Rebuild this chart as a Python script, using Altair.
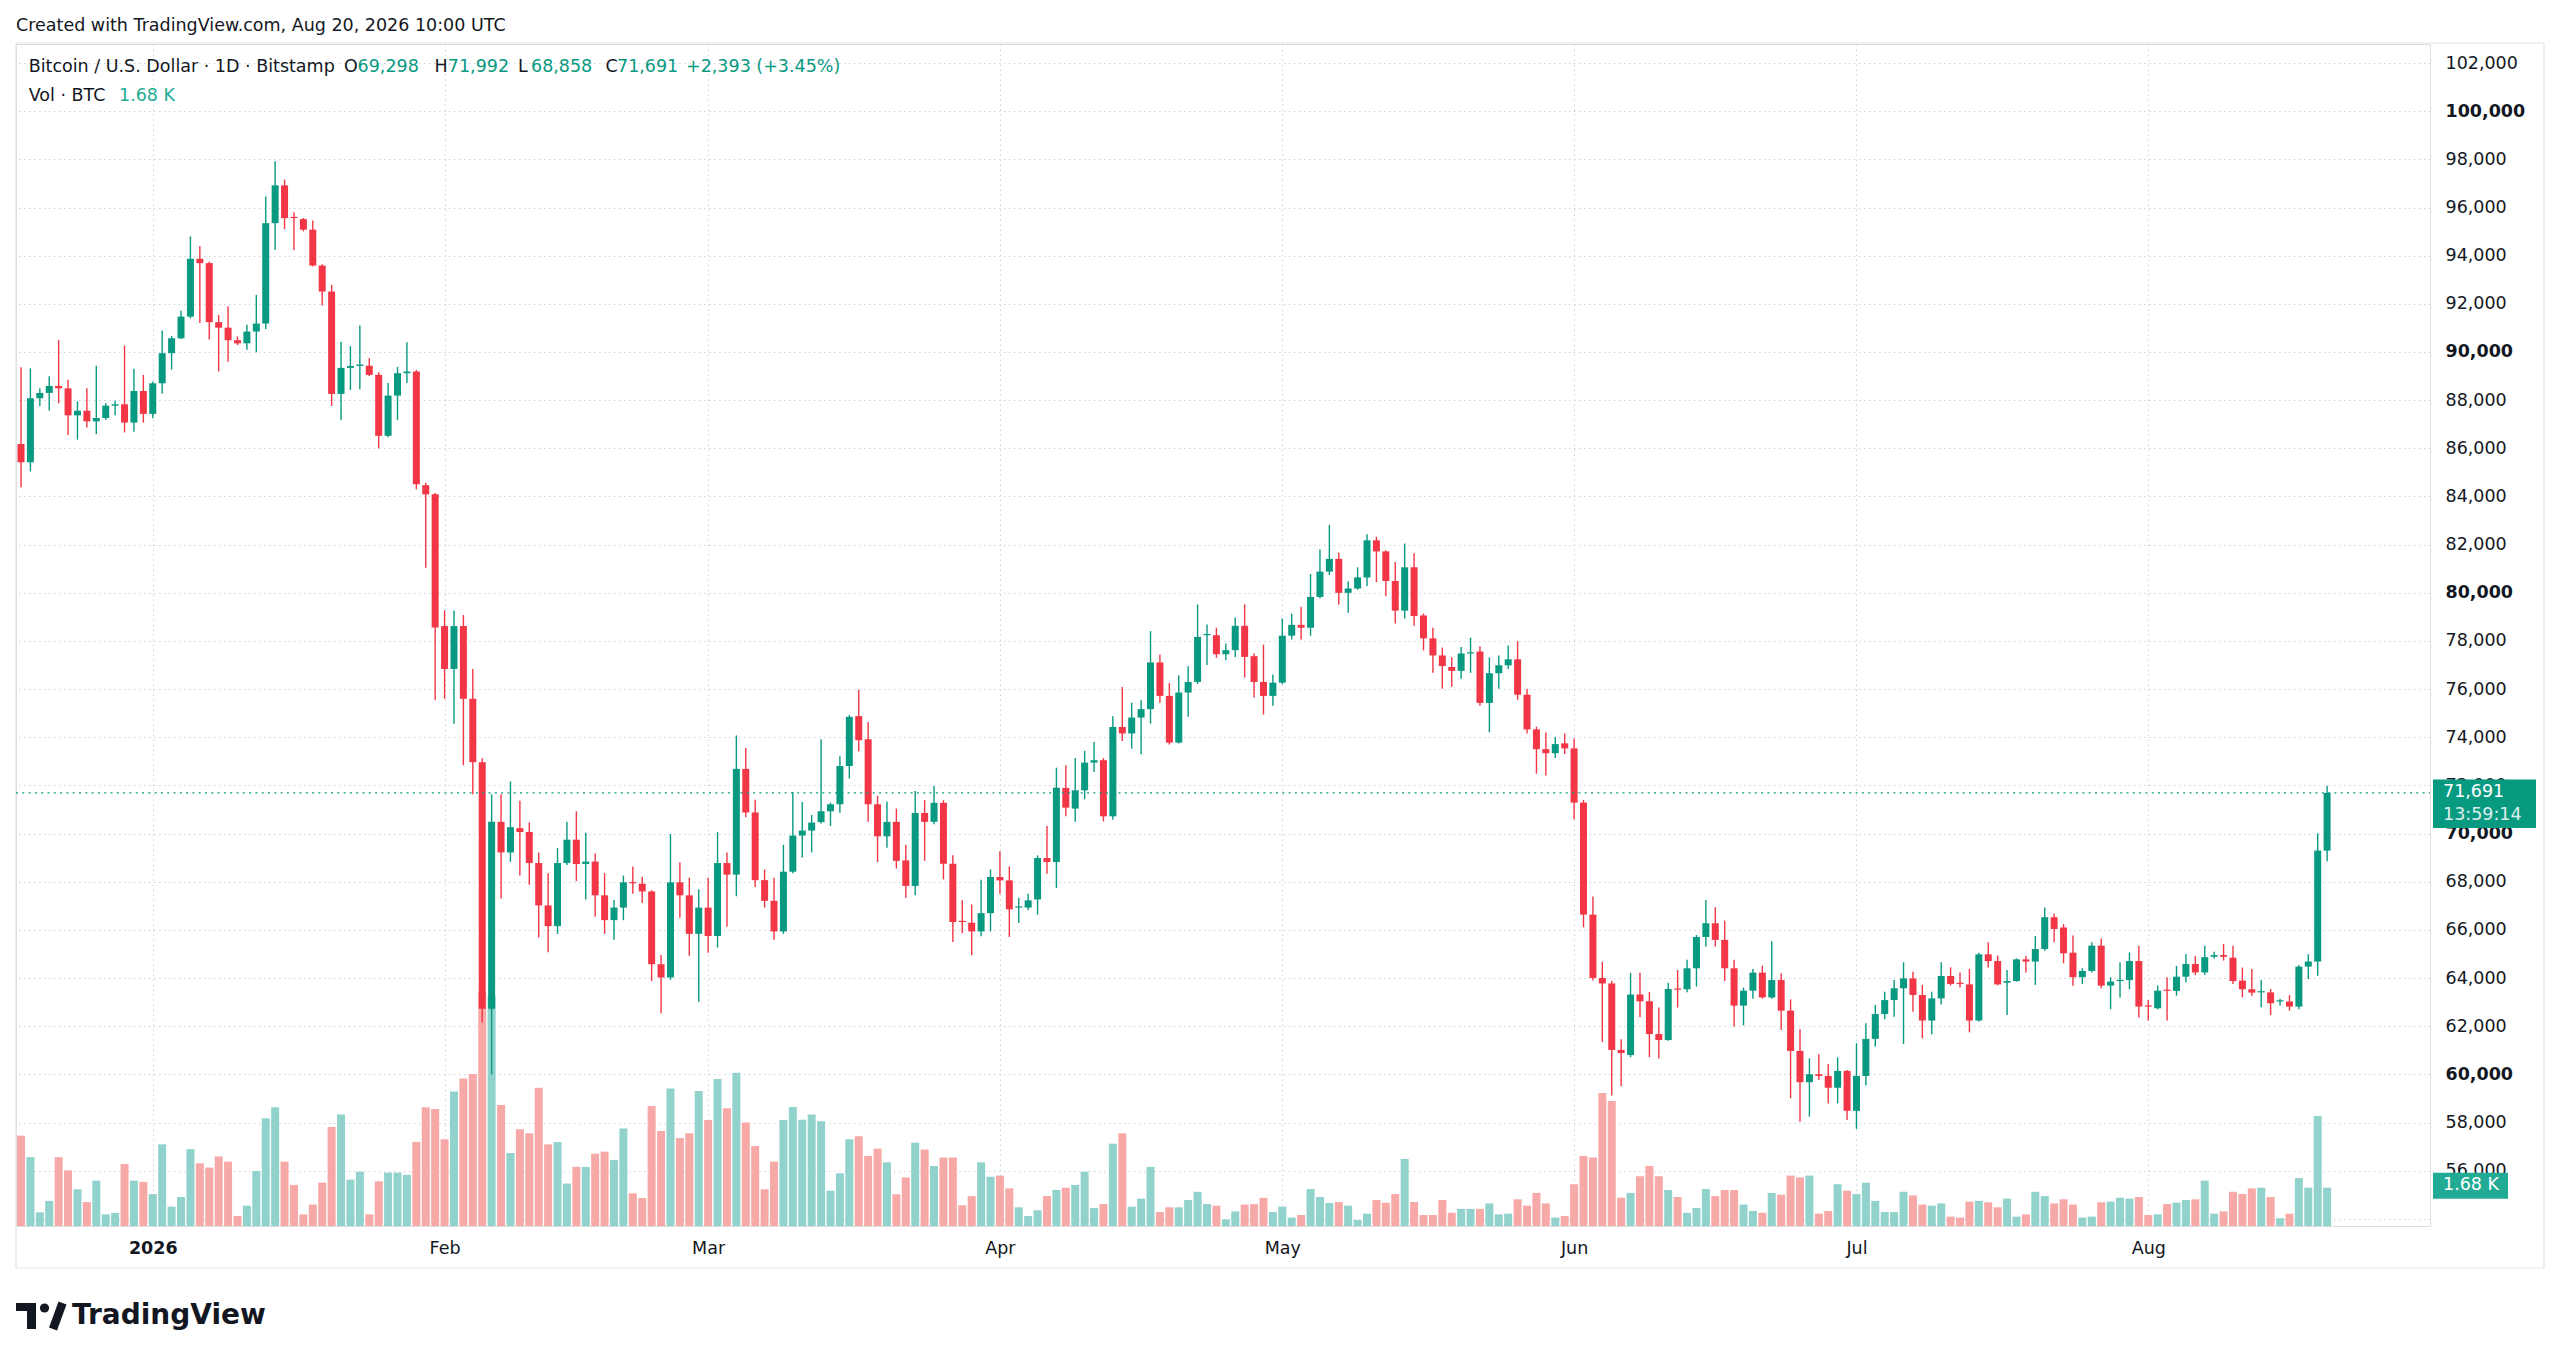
import altair as alt
import numpy as np
import pandas as pd

# ---------------- data ----------------
FIRST_DAY = "2025-12-18"
LAST_DAY = "2026-08-20"
EPOCH = "2026-01-01"

open_ = [
    86180, 85420, 88080, 88300, 88590, 88490, 87370, 87560, 87120, 87260, 87770, 87830, 87070, 88380,
    87430, 88700, 89950, 90570, 91470, 93870, 93690, 91240, 91010, 90490, 90360, 90850, 91180, 95350, 96920, 95600,
    95520, 95080, 93590, 92510, 88260, 89340, 89420, 89430, 89050, 86520, 88190, 89120, 89190, 84470, 84090,
    78620, 76840, 78620, 75600, 72970, 62730, 70490, 69220, 70230, 70070, 68780, 67020, 66160, 68780, 69750, 68740,
    68840, 67440, 66410, 66930, 67980, 67920, 67600, 64580, 64030, 67980, 67440, 65840,
    66930, 65750, 68780, 68300, 72690, 70880, 68070, 67210, 65940, 68420, 69920, 70130, 70480, 70930, 71220, 72810,
    74880, 73920, 71220, 69890, 70490, 68890, 67830, 70860, 70490, 71280, 68750, 66370, 66300, 65940, 66700,
    68200, 68060, 66930, 66930, 67270, 68990, 68820, 71900, 71040, 71800, 72950, 73050, 70720, 74430, 74160, 74820,
    75170, 77110, 75720, 73780, 75860, 76300, 78240, 78240, 77450, 77620, 78630, 77370, 76300, 75720,
    76270, 78220, 78670, 78550, 79830, 80880, 81410, 80000, 80180, 80640, 82180, 81720, 80490, 79260, 81060, 79060,
    78110, 77400, 76920, 76760, 77480, 77560, 75430, 76660, 76990, 77240, 75770, 74330, 73510, 73340, 73750,
    73540, 71290, 66640, 64010, 63780, 61020, 60810, 63320, 63040, 61680, 61430, 63570, 63540, 64410, 65710, 66280,
    65590, 64410, 62860, 63480, 64230, 63200, 63920, 62650, 60980, 59680, 60010, 59940, 59450, 60150,
    58490, 59940, 61480, 62510, 63090, 63580, 63990, 63300, 62240, 63160, 64090, 63810, 63740, 62240, 64990, 64710,
    63810, 63880, 64780, 64690, 65210, 66530, 66100, 65060, 64040, 64300, 65350, 63690, 63880, 63920, 64710,
    62860, 62750, 63510, 63470, 64060, 64590, 64240, 64890, 64960, 64850, 63900, 63540, 63410, 63410, 63030, 63030,
    62820, 64480, 64690, 69298,
]
high = [
    89370, 89320, 88490, 88990, 90500, 88850, 87950, 88490, 89430, 87870, 87980, 90270, 89300, 89050,
    88770, 90890, 90670, 91710, 94800, 94400, 93750, 91540, 91900, 90650, 91130, 92370, 96460, 97920, 97160, 95800,
    95560, 95460, 93640, 92790, 90430, 90240, 91100, 89740, 89160, 88710, 89380, 90400, 89250, 84570, 84150,
    79270, 79270, 79080, 76840, 73130, 71640, 71640, 72170, 71370, 70460, 69220, 68360, 69410, 70490, 70930, 70040,
    69180, 68360, 67250, 68260, 68640, 68210, 67650, 64960, 69980, 68800, 68170, 67690,
    68170, 70070, 69220, 74080, 73560, 71410, 68510, 68170, 69540, 71730, 71310, 70780, 73920, 71290, 73210, 74920,
    75980, 74640, 71570, 71340, 71040, 69540, 71770, 71390, 71980, 71390, 69100, 67230, 67060, 68090, 68510,
    69270, 68640, 67340, 67510, 69100, 70320, 72740, 72840, 73140, 73440, 73810, 73140, 74880, 76090, 75440, 75540,
    78410, 77440, 76260, 76580, 76950, 79520, 78680, 78550, 77900, 78980, 79520, 77480, 77850, 76610,
    78930, 79130, 79420, 80780, 81800, 82820, 81670, 80470, 81060, 82430, 82330, 81770, 81280, 82050, 81640, 79140,
    78550, 77730, 77330, 77750, 78140, 77780, 77320, 77400, 77810, 77990, 76020, 74440, 74200, 74000, 74160,
    73950, 71400, 67390, 64680, 63890, 61460, 64220, 64220, 63430, 62780, 63810, 64340, 64760, 65790, 67250, 66940,
    66390, 64760, 63610, 64380, 64520, 65530, 64200, 63120, 61880, 60670, 60840, 60440, 60710, 60190,
    61300, 62130, 62890, 63440, 63920, 64660, 64270, 63720, 63440, 64660, 64450, 64240, 64380, 65060, 65490, 64940,
    64340, 64820, 64920, 65750, 66930, 66690, 66250, 65770, 64410, 65490, 65650, 64040, 64660, 65070, 65350,
    63090, 63690, 64040, 64510, 65000, 64920, 65350, 65100, 65420, 65350, 64440, 64380, 63920, 63550, 63140, 63300,
    64550, 64990, 70010, 71992,
]
low = [
    84380, 85040, 87760, 87560, 87870, 86550, 86360, 86870, 86590, 87180, 87370, 86660, 86690, 87070,
    87250, 88280, 89270, 90540, 91400, 91200, 90520, 89190, 89600, 90290, 90090, 89990, 90950, 94240, 95100, 94240,
    95010, 93550, 91930, 87760, 87180, 88420, 88450, 89000, 86000, 86460, 87180, 88710, 84300, 81040, 75550,
    75600, 74560, 72840, 71640, 62160, 60000, 67310, 68830, 68260, 67880, 65690, 65080, 65840, 68700, 68030, 67270,
    66550, 65840, 65590, 66410, 67500, 67120, 63880, 62540, 63930, 66510, 64930, 63020,
    65060, 65270, 66130, 67400, 70680, 67790, 66930, 65590, 65840, 68360, 69010, 69220, 70420, 70320, 70870, 72290,
    73420, 70490, 68820, 69420, 68550, 67340, 67440, 68870, 70390, 68100, 65500, 65870, 64950, 65740, 65940,
    67510, 65710, 66290, 66820, 66640, 68340, 67740, 70720, 70490, 71430, 72560, 70510, 70580, 73850, 73530, 73300,
    74570, 75440, 73700, 73740, 74850, 76210, 77000, 77300, 77200, 77340, 76480, 75650, 74950, 75310,
    76200, 78060, 78060, 78220, 79780, 80740, 79500, 79170, 80130, 80280, 80440, 79860, 78730, 78930, 78630, 77610,
    76680, 76020, 76100, 76430, 76680, 75310, 74210, 76020, 76840, 75560, 74160, 72490, 72410, 73140, 73310,
    70600, 66110, 63900, 61350, 59130, 59510, 60720, 62380, 60720, 60660, 61400, 62780, 63410, 63650, 65310, 65310,
    63880, 61990, 62040, 63140, 63150, 63150, 61850, 59010, 58040, 58250, 59770, 58800, 58800, 58110,
    57740, 59540, 61160, 62290, 62400, 61270, 62610, 61500, 61670, 62910, 63700, 63610, 61750, 62200, 64440, 63700,
    62470, 63850, 64240, 63720, 65140, 65490, 64620, 63690, 63760, 64230, 63580, 62710, 63200, 63540, 62370,
    62240, 62700, 62240, 63270, 63830, 64130, 64130, 64820, 64730, 63760, 63200, 63270, 62790, 62470, 62860, 62650,
    62710, 63970, 64100, 68858,
]
close = [
    85420, 88080, 88300, 88590, 88490, 87370, 87560, 87120, 87260, 87770, 87830, 87070, 88380, 87430,
    88700, 89950, 90570, 91470, 93870, 93690, 91240, 91010, 90490, 90360, 90850, 91180, 95350, 96920, 95560, 95560,
    95080, 93590, 92510, 88260, 89340, 89420, 89480, 89050, 86520, 88190, 89120, 89190, 84510, 84090, 78560,
    76840, 78620, 75600, 72970, 62730, 70490, 69220, 70270, 70070, 68780, 67020, 66160, 68780, 69750, 68740, 68840,
    67440, 66410, 66930, 67980, 67940, 67600, 64580, 64030, 67980, 67440, 65840, 66930,
    65750, 68780, 68300, 72690, 70880, 68070, 67210, 65940, 68420, 69920, 70130, 70460, 70930, 71220, 72810, 74850,
    73880, 71220, 69890, 70490, 68870, 67830, 70860, 70490, 71280, 68750, 66330, 66330, 65940, 66700, 68200,
    68060, 66860, 66950, 67230, 68990, 68820, 71910, 71080, 71800, 72950, 73050, 70720, 74430, 74160, 74820, 75170,
    77110, 75720, 73780, 75860, 76300, 78170, 78280, 77450, 77620, 78630, 77340, 76300, 75720, 76270,
    78220, 78670, 78550, 79830, 80880, 81410, 80000, 80180, 80640, 82180, 81720, 80490, 79260, 81060, 79040, 78110,
    77400, 76960, 76760, 77480, 77530, 75430, 76660, 76990, 77240, 75770, 74330, 73510, 73340, 73720, 73540,
    71290, 66640, 64010, 63780, 61020, 60890, 63320, 63040, 61680, 61430, 63550, 63520, 64410, 65710, 66280, 65590,
    64410, 62860, 63480, 64230, 63200, 63920, 62650, 60980, 59680, 60010, 59940, 59450, 60150, 58490,
    59940, 61480, 62510, 63090, 63580, 63990, 63300, 62240, 63160, 64090, 63760, 63760, 62240, 64990, 64710, 63740,
    63880, 64780, 64690, 65210, 66530, 66040, 65030, 64040, 64300, 65350, 63690, 63860, 63920, 64710, 62820,
    62820, 63480, 63470, 64060, 64590, 64240, 64870, 64960, 64890, 63880, 63540, 63400, 63440, 62960, 63070, 62820,
    64480, 64690, 69298, 71691,
]
volume = [
    3960, 3020, 600, 1100, 3020, 2440, 1610, 1050, 1990, 510, 570, 2720, 1990, 1930,
    1400, 3580, 850, 1270, 3370, 2750, 2560, 3050, 2820, 440, 890, 2410, 4720, 5200, 2820, 1800,
    510, 940, 1900, 4340, 4890, 2030, 2380, 510, 1960, 2340, 2340, 2240, 3680, 5200, 5130,
    3800, 5890, 6470, 6660, 10230, 10080, 5300, 3200, 4240, 4060, 6060, 3580, 3680, 1860, 2590, 2590,
    3170, 3260, 2890, 4270, 1430, 1230, 5260, 4160, 6030, 3860, 4060, 5920,
    4650, 6440, 5160, 6720, 4540, 3510, 1610, 2820, 4650, 5220, 4660, 4890, 4590, 1550, 2310, 3800,
    3930, 3070, 3390, 2790, 1390, 2130, 3650, 3350, 2630, 3000, 3000, 910, 1310, 2790, 2160,
    2210, 1650, 820, 440, 690, 1310, 1580, 1680, 1800, 2380, 790, 960, 3610, 4060, 850, 1200,
    2590, 610, 820, 820, 1140, 1500, 960, 890, 290, 640, 940, 960, 1230, 610,
    850, 370, 480, 1620, 1270, 1010, 1050, 890, 260, 540, 1140, 1020, 1400, 2940, 1050, 480,
    480, 1140, 580, 750, 750, 750, 990, 510, 540, 1170, 890, 1450, 990, 370, 440,
    1830, 3070, 3000, 5830, 5480, 1240, 1450, 2180, 2630, 2180, 1580, 1270, 580, 790, 1620, 1310,
    1580, 1580, 940, 660, 580, 1450, 1370, 2210, 2130, 2210, 540, 660, 1830, 1550,
    1400, 1900, 1100, 610, 610, 1500, 1340, 940, 890, 990, 410, 370, 1070, 1100, 1040, 820,
    1200, 410, 510, 1500, 1310, 990, 1170, 940, 370, 410, 1040, 1070, 1240, 1200, 1270,
    480, 510, 960, 1020, 1140, 1170, 1990, 540, 640, 1500, 1400, 1650, 1680, 1270, 340, 540,
    2100, 1680, 4820, 1680,
]

month_tick_days = [0, 31, 59, 90, 120, 151, 181, 212]
month_tick_labels = ["2026", "Feb", "Mar", "Apr", "May", "Jun", "Jul", "Aug"]
price_ticks = list(range(54000, 104000, 2000))
countdown = "13:59:14"

# ---------------- style ----------------
GREEN = "#089981"
RED = "#f23645"
VOL_GREEN = "#92d2cc"
VOL_RED = "#f7a9a7"
VOL_TAG = "#22ab94"
TEXT = "#131722"
GRID = "#cfd2da"
BORDER = "#e0e3eb"
FONT = "DejaVu Sans"
FS = 17.5

W, H = 2414, 1182
X_DOMAIN = [-14.0, 241.4]
Y_DOMAIN = [53709, 102789]
VOL_DOMAIN = [0, 51807]

# ---------------- table ----------------
dates = pd.date_range(FIRST_DAY, LAST_DAY, freq="D")
df = pd.DataFrame({"open": open_, "high": high, "low": low, "close": close, "volume": volume})
df["day"] = (dates - pd.Timestamp(EPOCH)).days
df["dir"] = np.where(df["close"] >= df["open"], "up", "down")
lo = np.minimum(df["open"], df["close"])
hi = np.maximum(df["open"], df["close"])
df["body_lo"] = lo
df["body_hi"] = np.where(hi - lo < 50, lo + 50, hi)

last_o, last_h, last_l, last_c = open_[-1], high[-1], low[-1], close[-1]
chg = close[-1] - close[-2]
pct = chg / close[-2] * 100
last_vol = volume[-1]

one = pd.DataFrame({"k": [0]})

# ---------------- scales / axes ----------------
label_expr = ("[" + ",".join("'%s'" % s for s in month_tick_labels) + "][indexof(["
              + ",".join(str(d) for d in month_tick_days) + "], datum.value)]")
x_scale = alt.Scale(domain=X_DOMAIN, nice=False, zero=False)
x_axis = alt.Axis(values=month_tick_days, labelExpr=label_expr, title=None, grid=True,
                  gridDash=[1.5, 3.5], gridColor=GRID, gridWidth=1, domain=False, ticks=False,
                  tickSize=0, labelPadding=22, labelBaseline="middle", labelFont=FONT,
                  labelFontSize=FS, labelColor=TEXT, labelFlush=False, labelOverlap=False,
                  labelFontWeight={"condition": {"test": "datum.value === 0", "value": "bold"},
                                   "value": "normal"})
y_scale = alt.Scale(domain=Y_DOMAIN, nice=False, zero=False)
y_axis = alt.Axis(orient="right", values=price_ticks, title=None, grid=True, gridDash=[1.5, 3.5],
                  gridColor=GRID, gridWidth=1, domain=False, ticks=False, tickSize=0,
                  labelPadding=15, labelAlign="left", labelBaseline="middle", labelFont=FONT,
                  labelFontSize=FS, labelColor=TEXT, labelOverlap=False, labelFlush=False,
                  labelExpr="datum.value < 55000 ? '' : format(datum.value, ',d')",
                  labelFontWeight={"condition": {"test": "datum.value % 10000 === 0", "value": "bold"},
                                   "value": "normal"})
vol_scale = alt.Scale(domain=VOL_DOMAIN, nice=False, zero=True)

X = alt.X("day:Q", scale=x_scale, axis=x_axis)
candle_color = alt.Color("dir:N", scale=alt.Scale(domain=["up", "down"], range=[GREEN, RED]), legend=None)
vol_color = alt.Color("dir:N", scale=alt.Scale(domain=["up", "down"], range=[VOL_GREEN, VOL_RED]), legend=None)

# ---------------- volume ----------------
vol_bars = alt.Chart(df).mark_bar(size=8).encode(
    x=X, y=alt.Y("volume:Q", scale=vol_scale, axis=None), color=vol_color)
vol_tag = alt.Chart(one).mark_rect(color=VOL_TAG, yOffset=-15, y2Offset=11).encode(
    x=alt.value(W + 3), x2=alt.value(W + 78),
    y=alt.YDatum(last_vol, type="quantitative", scale=vol_scale, axis=None),
    y2=alt.Y2Datum(last_vol))
vol_tag_text = alt.Chart(one).mark_text(
    text="%.2f K" % (last_vol / 1000), align="left", baseline="middle", dy=-3,
    color="white", font=FONT, fontSize=FS).encode(
    x=alt.value(W + 13), y=alt.YDatum(last_vol, type="quantitative", scale=vol_scale, axis=None))
vol_group = alt.layer(vol_bars, vol_tag, vol_tag_text)

# ---------------- candles ----------------
wicks = alt.Chart(df).mark_rule(strokeWidth=1.4).encode(
    x=X, y=alt.Y("low:Q", scale=y_scale, axis=y_axis), y2="high:Q", color=candle_color)
bodies = alt.Chart(df).mark_bar(size=7).encode(
    x=X, y=alt.Y("body_lo:Q", scale=y_scale, axis=y_axis), y2="body_hi:Q", color=candle_color)
py = alt.YDatum(last_c, type="quantitative", scale=y_scale, axis=y_axis)
price_line = alt.Chart(one).mark_rule(color=GREEN, strokeDash=[2, 4.3], strokeWidth=1.3).encode(
    x=alt.value(0), x2=alt.value(W), y=py)
price_tag = alt.Chart(one).mark_rect(color=GREEN, yOffset=-13.5, y2Offset=35).encode(
    x=alt.value(W + 3), x2=alt.value(W + 106), y=py, y2=alt.Y2Datum(last_c))
price_tag_t1 = alt.Chart(one).mark_text(
    text=f"{last_c:,}", align="left", baseline="middle", dy=-1.3, color="white",
    font=FONT, fontSize=FS).encode(x=alt.value(W + 13), y=py)
price_tag_t2 = alt.Chart(one).mark_text(
    text=countdown, align="left", baseline="middle", dy=21.6, color="white", opacity=0.85,
    font=FONT, fontSize=FS).encode(x=alt.value(W + 13), y=py)
price_group = alt.layer(wicks, bodies, price_line, price_tag, price_tag_t1, price_tag_t2)


# ---------------- texts ----------------
def label(text, x, y, color=TEXT, size=FS, weight="normal"):
    return alt.Chart(one).mark_text(
        text=text, align="left", baseline="middle", font=FONT, fontSize=size,
        fontWeight=weight, color=color).encode(x=alt.value(x), y=alt.value(y))


ROW1, ROW2 = 23, 51.5
texts = [
    label("Created with TradingView.com, Aug 20, 2026 10:00 UTC", 0, -18),
    label("Bitcoin / U.S. Dollar · 1D · Bitstamp", 12.7, ROW1),
    label("O", 328, ROW1), label(f"{last_o:,}", 341.6, ROW1, GREEN),
    label("H", 418.6, ROW1), label(f"{last_h:,}", 431.8, ROW1, GREEN),
    label("L", 502, ROW1), label(f"{last_l:,}", 515, ROW1, GREEN),
    label("C", 589.6, ROW1), label(f"{last_c:,}", 601, ROW1, GREEN),
    label(f"{chg:+,} ({pct:+.2f}%)", 670, ROW1, GREEN),
    label("Vol · BTC", 12.7, ROW2),
    label("%.2f K" % (last_vol / 1000), 103, ROW2, VOL_TAG),
    label("TradingView", 56, 1272, TEXT, 28, "bold"),
]

# panel border
border = alt.Chart(one).mark_rect(fillOpacity=0, stroke=BORDER, strokeWidth=1.2).encode(
    x=alt.value(0), x2=alt.value(2528), y=alt.value(-1), y2=alt.value(1224))

# TradingView logo glyph
logo = [
    alt.Chart(one).mark_rect(color=TEXT).encode(
        x=alt.value(0), x2=alt.value(20), y=alt.value(1259), y2=alt.value(1267)),
    alt.Chart(one).mark_rect(color=TEXT).encode(
        x=alt.value(11), x2=alt.value(20), y=alt.value(1259), y2=alt.value(1285)),
    alt.Chart(one).mark_point(filled=True, color=TEXT, size=85, opacity=1, shape="circle").encode(
        x=alt.value(28.5), y=alt.value(1264)),
    alt.Chart(one).mark_rule(color=TEXT, strokeWidth=8.5).encode(
        x=alt.value(37), x2=alt.value(46.5), y=alt.value(1285), y2=alt.value(1259)),
]

chart = alt.layer(border, vol_group, price_group, *texts, *logo).resolve_scale(
    y="independent", color="independent"
).properties(
    width=W, height=H,
    autosize=alt.AutoSizeParams(type="none"),
    padding={"left": 8, "top": 36, "right": 115, "bottom": 116},
    background="white",
).configure_view(strokeWidth=0, stroke="transparent").configure(font=FONT)

chart.save("out.html", embed_options={"renderer": "svg", "actions": False})
